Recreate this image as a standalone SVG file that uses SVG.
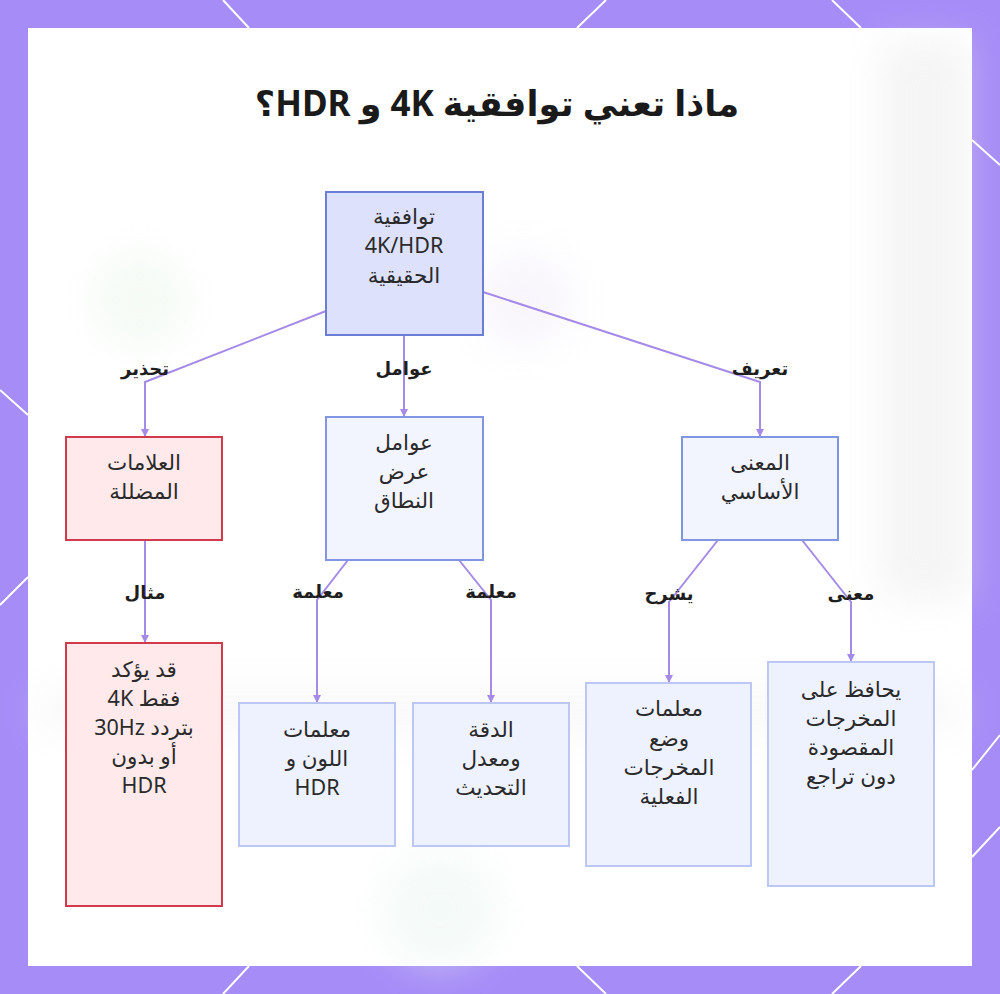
<svg xmlns="http://www.w3.org/2000/svg" width="1000" height="994" viewBox="0 0 1000 994">
<style>
.t{font-family:"Noto Sans","DejaVu Sans",sans-serif;font-size:21.5px;fill:#2a2a2a;text-anchor:middle;dominant-baseline:central;direction:rtl}
.lbl{font-family:"Noto Sans","DejaVu Sans",sans-serif;font-size:18px;font-weight:bold;fill:#1e1e1e;text-anchor:middle;dominant-baseline:central;direction:rtl}
.title{font-family:"Noto Sans","DejaVu Sans",sans-serif;font-size:35px;font-weight:bold;fill:#1a1a1a;text-anchor:middle;dominant-baseline:central;direction:rtl}
.e{fill:none;stroke:#a58ae8;stroke-width:2;marker-end:url(#ah)}
.root{fill:#dde1fb;stroke:#6a7ed6;stroke-width:2}
.mid{fill:#f2f4fe;stroke:#8195e3;stroke-width:2}
.leaf{fill:#eef2fe;stroke:#bcc7f5;stroke-width:2}
.red{fill:#ffe9eb;stroke:#cf3b4c;stroke-width:2}
.hex{stroke:#ffffff;stroke-width:2;fill:none}
</style>
<defs>
<marker id="ah" markerWidth="8" markerHeight="8" refX="7" refY="4" orient="auto" markerUnits="userSpaceOnUse">
<path d="M0,0 L8,4 L0,8 z" fill="#a58ae8"/>
</marker>
<filter id="blur" x="-50%" y="-50%" width="200%" height="200%"><feGaussianBlur stdDeviation="18"/></filter>
</defs>
<rect width="1000" height="994" fill="#a68cf7"/>
<g id="pattern">
<path class="hex" d="M223,0 L249,28 M606,0 L577,28 M832,0 L861,28 M249,966 L223,994 M577,966 L606,994 M861,966 L832,994 M0,390 L28,415 M0,605 L28,577 M972,140 L1000,165 M972,770 L1000,735 M972,857 L1000,827"/>
</g>
<rect x="28" y="28" width="944" height="938" fill="#ffffff"/>
<g id="bg" filter="url(#blur)" opacity="0.4">
<rect x="880" y="40" width="90" height="560" fill="#e6e6e6"/>
<rect x="40" y="690" width="920" height="40" fill="#eeeeee"/>
<circle cx="140" cy="300" r="50" fill="#e8f5e8"/>
<circle cx="525" cy="300" r="50" fill="#efe8f8"/>
<circle cx="440" cy="910" r="60" fill="#e6f4f0"/>
</g>
<text class="title" x="497" y="102">ماذا تعني توافقية 4K و HDR؟</text>
<g id="connectors">
<path class="e" d="M326,311 L145,382 L145,436"/>
<path class="e" d="M404,335 L404,416"/>
<path class="e" d="M483,292 L760,382 L760,436"/>
<path class="e" d="M145,540 L145,642"/>
<path class="e" d="M348,560 L317,600 L317,702"/>
<path class="e" d="M459,560 L491,600 L491,702"/>
<path class="e" d="M718,540 L669,602 L669,682"/>
<path class="e" d="M802,540 L851,602 L851,661"/>
<text class="lbl" x="145" y="368">تحذير</text>
<text class="lbl" x="404" y="368">عوامل</text>
<text class="lbl" x="760" y="368">تعريف</text>
<text class="lbl" x="145" y="592">مثال</text>
<text class="lbl" x="318" y="591">معلمة</text>
<text class="lbl" x="491" y="591">معلمة</text>
<text class="lbl" x="669" y="593">يشرح</text>
<text class="lbl" x="851" y="593">معنى</text>
</g>
<g id="n_root">
<rect class="root" x="326" y="192" width="157" height="143"/>
<text class="t" x="404" y="215">توافقية</text>
<text class="t" x="404" y="244">4K/HDR</text>
<text class="t" x="404" y="274">الحقيقية</text>
</g>
<g id="n_misleading">
<rect class="red" x="66" y="437" width="156" height="103"/>
<text class="t" x="144" y="461">العلامات</text>
<text class="t" x="144" y="490">المضللة</text>
</g>
<g id="n_factors">
<rect class="mid" x="326" y="417" width="157" height="143"/>
<text class="t" x="404" y="441">عوامل</text>
<text class="t" x="404" y="470">عرض</text>
<text class="t" x="404" y="499">النطاق</text>
</g>
<g id="n_meaning">
<rect class="mid" x="682" y="437" width="156" height="103"/>
<text class="t" x="760" y="461">المعنى</text>
<text class="t" x="760" y="490">الأساسي</text>
</g>
<g id="n_example">
<rect class="red" x="66" y="643" width="156" height="263"/>
<text class="t" x="144" y="668">قد يؤكد</text>
<text class="t" x="144" y="697">فقط 4K</text>
<text class="t" x="144" y="726">بتردد 30Hz</text>
<text class="t" x="144" y="755">أو بدون</text>
<text class="t" x="144" y="784">HDR</text>
</g>
<g id="n_color">
<rect class="leaf" x="239" y="703" width="156" height="143"/>
<text class="t" x="317" y="728">معلمات</text>
<text class="t" x="317" y="757">اللون و</text>
<text class="t" x="317" y="786">HDR</text>
</g>
<g id="n_resolution">
<rect class="leaf" x="413" y="703" width="156" height="143"/>
<text class="t" x="491" y="728">الدقة</text>
<text class="t" x="491" y="757">ومعدل</text>
<text class="t" x="491" y="786">التحديث</text>
</g>
<g id="n_explain">
<rect class="leaf" x="586" y="683" width="165" height="183"/>
<text class="t" x="669" y="707">معلمات</text>
<text class="t" x="669" y="737">وضع</text>
<text class="t" x="669" y="766">المخرجات</text>
<text class="t" x="669" y="795">الفعلية</text>
</g>
<g id="n_preserve">
<rect class="leaf" x="768" y="662" width="166" height="224"/>
<text class="t" x="851" y="688">يحافظ على</text>
<text class="t" x="851" y="717">المخرجات</text>
<text class="t" x="851" y="746">المقصودة</text>
<text class="t" x="851" y="775">دون تراجع</text>
</g>
</svg>
